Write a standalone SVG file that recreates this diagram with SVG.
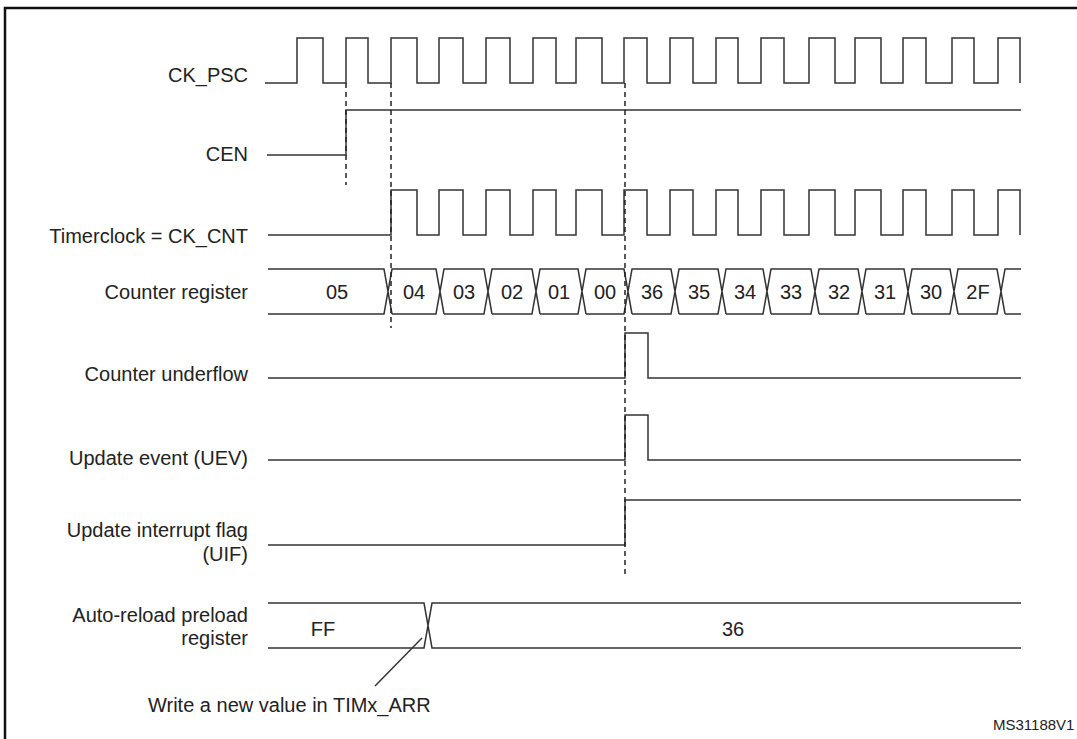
<svg xmlns="http://www.w3.org/2000/svg" width="1077" height="739" viewBox="0 0 1077 739">
<style>
.s{fill:none;stroke:#333;stroke-width:1.5}
.d{fill:none;stroke:#222;stroke-width:1.5;stroke-dasharray:5,4}
.l{font-family:"Liberation Sans",Arial,sans-serif;font-size:20px;fill:#222;text-anchor:end}
.v{font-family:"Liberation Sans",Arial,sans-serif;font-size:20px;fill:#222;text-anchor:middle}
</style>
<rect width="1077" height="739" fill="#fff"/>
<path d="M5 739 V8 H1077" fill="none" stroke="#111" stroke-width="2.5"/>
<g id="labels">
<text class="l" x="248" y="82">CK_PSC</text>
<text class="l" x="248" y="161">CEN</text>
<text class="l" x="248" y="243">Timerclock = CK_CNT</text>
<text class="l" x="248" y="299">Counter register</text>
<text class="l" x="248" y="381">Counter underflow</text>
<text class="l" x="248" y="465">Update event (UEV)</text>
<text class="l" x="248" y="537">Update interrupt flag</text>
<text class="l" x="248" y="561">(UIF)</text>
<text class="l" x="248" y="622">Auto-reload preload</text>
<text class="l" x="248" y="645">register</text>
</g>
<g id="ck_psc"><path class="s" d="M265 83 H297 V38 H323 V83 H346 V38 H368 V83 H391 V38 H417 V83 H439 V38 H463 V83 H486 V38 H510 V83 H533 V38 H556 V83 H576 V38 H602 V83 H624 V38 H647 V83 H670 V38 H693 V83 H716 V38 H738 V83 H761 V38 H784 V83 H809 V38 H835 V83 H855 V38 H881 V83 H903 V38 H926 V83 H952 V38 H974 V83 H998 V38 H1020 V83"/></g>
<g id="cen"><path class="s" d="M267 155 H346 V110 H1021"/></g>
<g id="ck_cnt"><path class="s" d="M268 235 H391 V190 H417 V235 H439 V190 H463 V235 H486 V190 H510 V235 H533 V190 H556 V235 H576 V190 H602 V235 H624 V190 H647 V235 H670 V190 H693 V235 H716 V190 H738 V235 H761 V190 H784 V235 H809 V190 H835 V235 H855 V190 H881 V235 H903 V190 H926 V235 H952 V190 H974 V235 H998 V190 H1020 V235"/></g>
<g id="counter">
<path class="s" d="M268 269 H384 L392 314 M268 314 H384 L392 269
H436 L444 314 M392 314 H436 L444 269
H484 L492 314 M444 314 H484 L492 269
H532 L540 314 M492 314 H532 L540 269
H578 L586 314 M540 314 H578 L586 269
H624 L632 314 M586 314 H624 L632 269
H671 L679 314 M632 314 H671 L679 269
H718 L726 314 M679 314 H718 L726 269
H763 L771 314 M726 314 H763 L771 269
H811 L819 314 M771 314 H811 L819 269
H858 L866 314 M819 314 H858 L866 269
H904 L912 314 M866 314 H904 L912 269
H950 L958 314 M912 314 H950 L958 269
H997 L1005 314 M958 314 H997 L1005 269 H1021 M1005 314 H1021"/>
<text class="v" x="337" y="299">05</text>
<text class="v" x="414" y="299">04</text>
<text class="v" x="464" y="299">03</text>
<text class="v" x="512" y="299">02</text>
<text class="v" x="559" y="299">01</text>
<text class="v" x="605" y="299">00</text>
<text class="v" x="652" y="299">36</text>
<text class="v" x="699" y="299">35</text>
<text class="v" x="745" y="299">34</text>
<text class="v" x="791" y="299">33</text>
<text class="v" x="839" y="299">32</text>
<text class="v" x="885" y="299">31</text>
<text class="v" x="931" y="299">30</text>
<text class="v" x="978" y="299">2F</text>
</g>
<g id="underflow"><path class="s" d="M268 378 H625 V333 H648 V378 H1021"/></g>
<g id="uev"><path class="s" d="M268 460 H625 V415 H648 V460 H1021"/></g>
<g id="uif"><path class="s" d="M268 545 H625 V500 H1021"/></g>
<g id="arr">
<path class="s" d="M268 603 H424 L432 648 H1021 M268 648 H424 L432 603 H1021"/>
<text class="v" x="323" y="636">FF</text>
<text class="v" x="733" y="636">36</text>
</g>
<g id="connectors">
<line class="d" x1="346" y1="83" x2="346" y2="185"/>
<line class="d" x1="391" y1="83" x2="391" y2="328"/>
<line class="d" x1="625" y1="83" x2="625" y2="578"/>
<line class="s" x1="422" y1="638" x2="375" y2="686" stroke-width="1"/>
</g>
<text x="148" y="712" font-family="Liberation Sans, Arial, sans-serif" font-size="20" fill="#222">Write a new value in TIMx_ARR</text>
<text x="993" y="730" font-family="Liberation Sans, Arial, sans-serif" font-size="15" fill="#222">MS31188V1</text>
</svg>
